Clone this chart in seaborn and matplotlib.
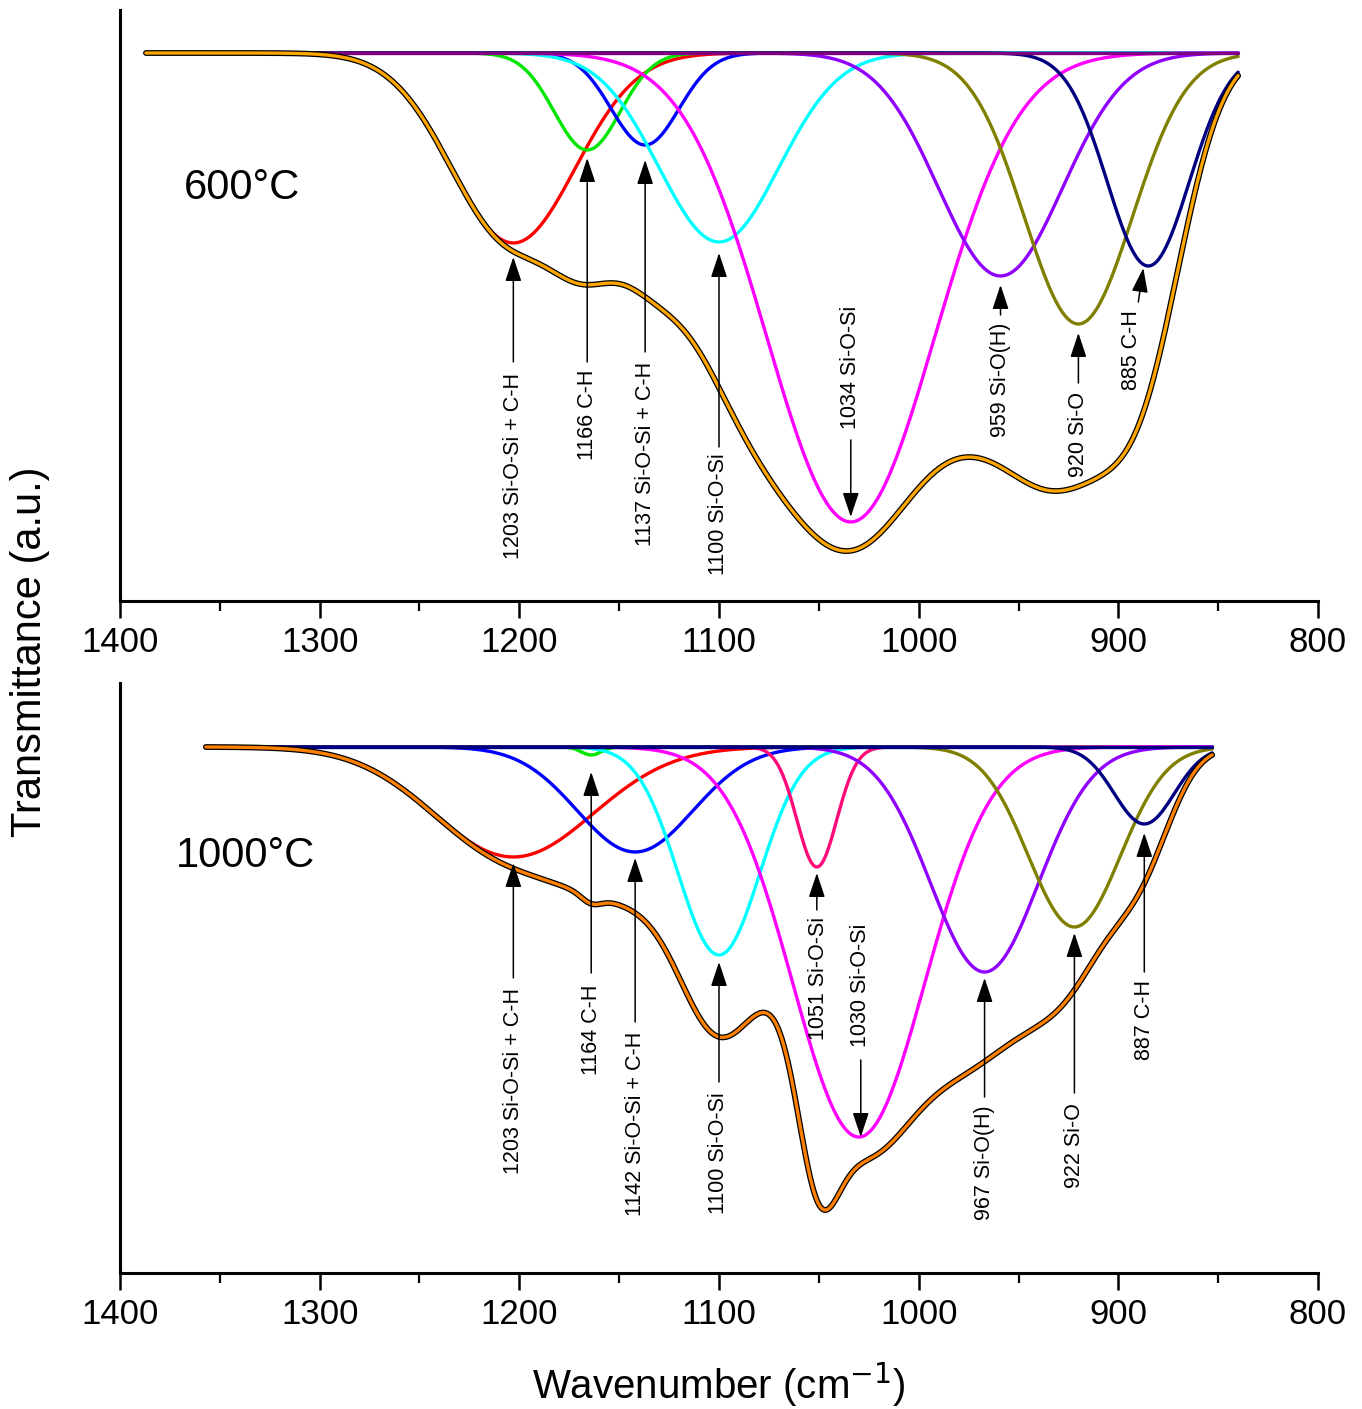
import numpy as np
import pandas as pd
import matplotlib
matplotlib.use("Agg")
import matplotlib.pyplot as plt
from matplotlib.ticker import MultipleLocator
import seaborn as sns

# ---- peak parameters (depth in a.u. below baseline, sigma in cm-1)
top_centers = [1203, 1166, 1137, 1100, 1034, 959, 920, 885]
top_depths = [1.90, 0.97, 0.92, 1.89, 4.69, 2.23, 2.71, 2.13]
top_sigmas = [31, 16.5, 17, 30, 42, 31, 27, 20.5]
top_range = (840, 1387)

bot_centers = [1203, 1164, 1142, 1100, 1051, 1030, 967, 922, 887]
bot_depths = [1.10, 0.08, 1.05, 2.08, 1.20, 3.90, 2.25, 1.80, 0.77]
bot_sigmas = [40, 5, 29, 20.5, 10, 33, 27, 23, 15]
bot_range = (853, 1357)

# peak labels
top_labels = ["1203 Si-O-Si + C-H", "1166 C-H", "1137 Si-O-Si + C-H", "1100 Si-O-Si",
              "1034 Si-O-Si", "959 Si-O(H)", "920 Si-O", "885 C-H"]
bot_labels = ["1203 Si-O-Si + C-H", "1164 C-H", "1142 Si-O-Si + C-H", "1100 Si-O-Si",
              "1051 Si-O-Si", "1030 Si-O-Si", "967 Si-O(H)", "922 Si-O", "887 C-H"]

# ---- styles / layout
top_colors = ['#ff0000', '#00e600', '#0000ff', '#00ffff', '#ff00ff', '#8f00ff', '#808000', '#000080']
bot_colors = ['#ff0000', '#00e600', '#0000ff', '#00ffff', '#ff0a78', '#ff00ff', '#8f00ff', '#808000', '#000080']

# (text x, text y, arrow tail x, tail y, arrow tip x, tip y)
top_ann_pos = [(1203, -3.20, 1203, -3.09, 1203, -2.04),
               (1166, -3.17, 1166, -3.09, 1166, -1.05),
               (1137, -3.09, 1137, -2.99, 1137, -1.07),
               (1100, -4.00, 1100, -3.94, 1100, -2.00),
               (1034, -3.76, 1034, -3.87, 1034, -4.64),
               (959, -2.70, 959, -2.62, 959, -2.32),
               (920, -3.39, 920, -3.30, 920, -2.80),
               (893.5, -2.57, 890, -2.49, 887.5, -2.15)]
bot_ann_pos = [(1203, -2.41, 1203, -2.31, 1203, -1.16),
               (1164, -2.38, 1164, -2.26, 1164, -0.25),
               (1142, -2.85, 1142, -2.75, 1142, -1.11),
               (1100, -3.45, 1100, -3.35, 1100, -2.15),
               (1050, -1.70, 1051, -1.63, 1051, -1.26),
               (1029, -3.00, 1029, -3.13, 1029, -3.90),
               (967, -3.58, 967, -3.50, 967, -2.31),
               (922, -3.56, 922, -3.46, 922, -1.86),
               (887, -2.33, 887, -2.25, 887, -0.86)]

sns.set_style("white")
plt.rcParams['font.family'] = ['Liberation Sans', 'DejaVu Sans']
plt.rcParams['text.color'] = 'black'
plt.rcParams['xtick.color'] = 'black'
plt.rcParams['xtick.labelcolor'] = 'black'


def components(centers, depths, sigmas, wn_range):
    wn = np.linspace(wn_range[0], wn_range[1], 800)
    rows = []
    for i, (c, d, s) in enumerate(zip(centers, depths, sigmas)):
        y = -d * np.exp(-(wn - c) ** 2 / (2 * s ** 2))
        rows.append(pd.DataFrame({'wn': wn, 'val': y, 'peak': i}))
    df = pd.concat(rows, ignore_index=True)
    total = df.groupby('wn', sort=True)['val'].sum().reset_index()
    return df, total


def draw_panel(ax, centers, depths, sigmas, wn_range, colors, base_color,
               fit_color, labels, ann_pos, title, title_xy, ylim):
    df, total = components(centers, depths, sigmas, wn_range)
    sns.lineplot(data=df, x='wn', y='val', hue='peak', palette=colors, legend=False,
                 lw=2.4, sort=False, estimator=None, ax=ax)
    ax.plot(list(wn_range), [0, 0], color=base_color, lw=2.4)
    sns.lineplot(data=total, x='wn', y='val', color='black', lw=4.2, ax=ax,
                 estimator=None, solid_capstyle='round')
    sns.lineplot(data=total, x='wn', y='val', color=fit_color, lw=2.4, ax=ax,
                 estimator=None, solid_capstyle='round')

    for lab, (xt, yt, xa, ya, xb, yb) in zip(labels, ann_pos):
        va = 'top' if yb > ya else 'bottom'
        ax.text(xt, yt, lab, rotation=90, ha='center', va=va, fontsize=15.5)
        ax.annotate('', xy=(xb, yb), xytext=(xa, ya),
                    arrowprops=dict(arrowstyle='-|>,head_length=0.75,head_width=0.25',
                                    color='black', lw=1.1, mutation_scale=20,
                                    shrinkA=0, shrinkB=0))

    ax.text(title_xy[0], title_xy[1], title, ha='left', va='center', fontsize=30)

    ax.set_xlim(1400, 800)
    ax.set_ylim(*ylim)
    ax.set_xlabel('')
    ax.set_ylabel('')
    ax.set_yticks([])
    ax.xaxis.set_major_locator(MultipleLocator(100))
    ax.xaxis.set_minor_locator(MultipleLocator(50))
    ax.tick_params(axis='x', which='major', direction='out', length=12, width=1.8,
                   labelsize=25, pad=6, bottom=True)
    ax.tick_params(axis='x', which='minor', direction='out', length=7, width=1.6, bottom=True)
    sns.despine(ax=ax, top=True, right=True)
    for sp in ['left', 'bottom']:
        ax.spines[sp].set_linewidth(2.2)
        ax.spines[sp].set_color('black')


fig = plt.figure(figsize=(13.62, 14.09), dpi=100)
ax1 = fig.add_axes([0.0881, 0.5735, 0.8796, 0.4194])
ax2 = fig.add_axes([0.0881, 0.0965, 0.8796, 0.4188])

draw_panel(ax1, top_centers, top_depths, top_sigmas, top_range, top_colors, '#800080',
           '#ffa500', top_labels, top_ann_pos, '600\u00b0C', (1368, -1.35), (-5.48, 0.43))
draw_panel(ax2, bot_centers, bot_depths, bot_sigmas, bot_range, bot_colors, '#000080',
           '#ff7f00', bot_labels, bot_ann_pos, '1000\u00b0C', (1372, -1.09), (-5.26, 0.64))

fig.text(0.528, 1 - 1385 / 1409, 'Wavenumber (cm$^{-1}$)', ha='center', va='center', fontsize=29)
fig.text(30 / 1362, 1 - 652 / 1409, 'Transmittance (a.u.)', ha='center', va='center',
         rotation=90, fontsize=30)

fig.savefig('out.png', dpi=100)
